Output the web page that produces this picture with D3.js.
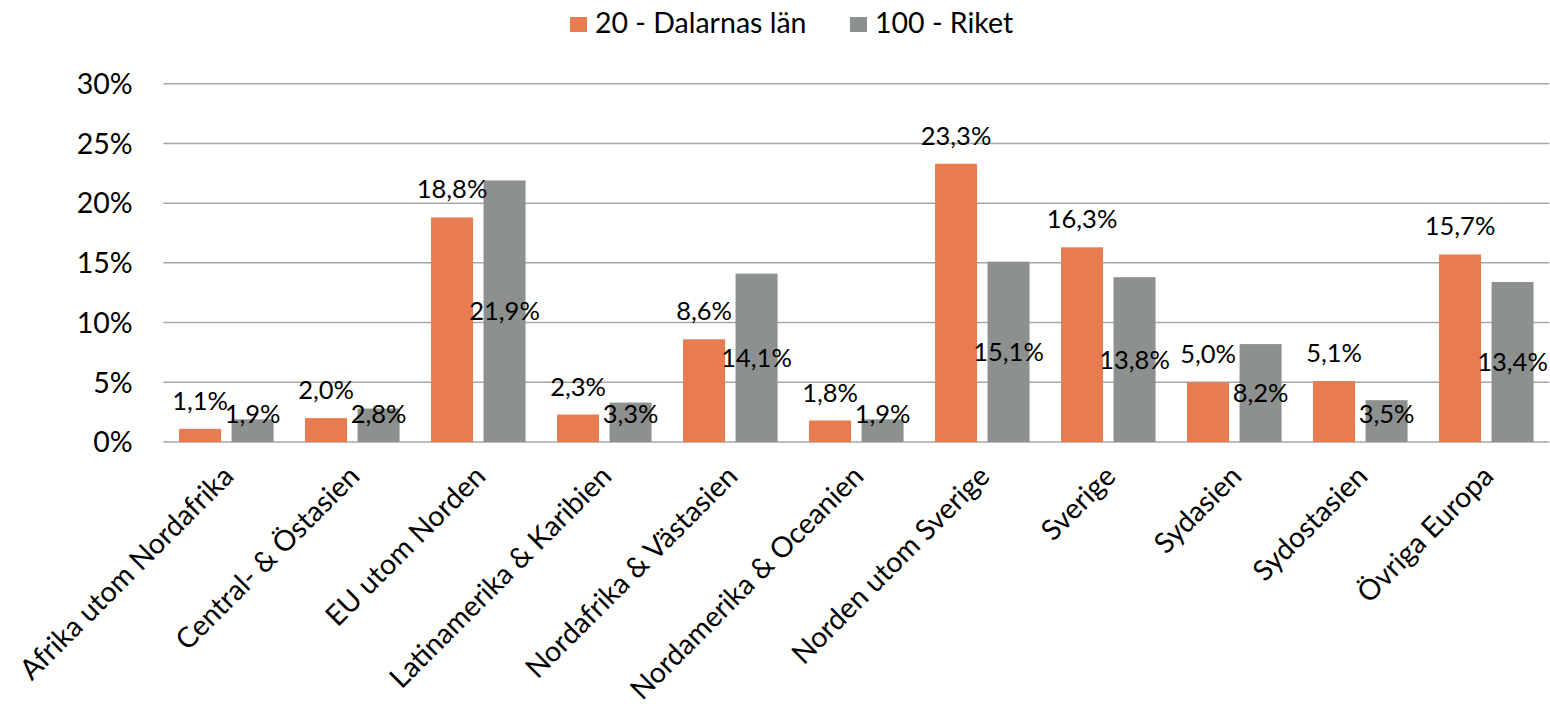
<!DOCTYPE html>
<html>
<head>
<meta charset="utf-8">
<script src="https://cdn.jsdelivr.net/npm/d3@7"></script>
<style>
  html, body { margin: 0; padding: 0; background: #fff; }
  svg { display: block; }
  text { font-family: Lato, "Open Sans", sans-serif; fill: #000; }
</style>
</head>
<body>
<svg id="chart" width="1550" height="715"></svg>
<script>
const categories = ["Afrika utom Nordafrika", "Central- & Östasien", "EU utom Norden", "Latinamerika & Karibien", "Nordafrika & Västasien", "Nordamerika & Oceanien", "Norden utom Sverige", "Sverige", "Sydasien", "Sydostasien", "Övriga Europa"];
const seriesNames = ["20 - Dalarnas län", "100 - Riket"];
const dalarna = [1.1, 2.0, 18.8, 2.3, 8.6, 1.8, 23.3, 16.3, 5.0, 5.1, 15.7];
const riket = [1.9, 2.8, 21.9, 3.3, 14.1, 1.9, 15.1, 13.8, 8.2, 3.5, 13.4];
const yTicks = [0, 5, 10, 15, 20, 25, 30];

const colors = ["#E67C4F", "#8C908E"];
const FS = 28.5;      // legend / axis
const FS_LBL = 25.5;  // data labels
const FS_CAT = 28.5;  // category labels

const locale = d3.formatLocale({ decimal: ",", thousands: " ", grouping: [3], currency: ["", " kr"] });
const fmt1 = v => locale.format(".1f")(v) + "%";
const fmt0 = v => locale.format("d")(v) + "%";

const svg = d3.select("#chart");
const plotLeft = 163.3, plotRight = 1549.3, plotTop = 83.7, plotBottom = 442;

const y = d3.scaleLinear().domain([0, 30]).range([plotBottom, plotTop]);
const x0 = d3.scaleBand().domain(categories).range([plotLeft, plotRight]).padding(0);
const x1 = d3.scaleBand().domain(seriesNames).range([0, x0.bandwidth()]).paddingInner(0.2).paddingOuter(0.3);

// gridlines
svg.append("g").selectAll("line").data(yTicks).join("line")
  .attr("x1", plotLeft).attr("x2", plotRight)
  .attr("y1", d => y(d)).attr("y2", d => y(d))
  .attr("stroke", "#a6a6a6").attr("stroke-width", 1.5);

// y labels
svg.append("g").selectAll("text").data(yTicks).join("text")
  .attr("x", 132.7).attr("y", d => y(d))
  .attr("dy", "0.36em")
  .attr("text-anchor", "end")
  .attr("font-size", FS)
  .text(d => fmt0(d));

const data = categories.map((c, i) => ({ cat: c, vals: [dalarna[i], riket[i]] }));

const groups = svg.append("g").selectAll("g").data(data).join("g")
  .attr("transform", d => `translate(${x0(d.cat)},0)`);

groups.selectAll("rect").data(d => d.vals.map((v, j) => ({ v, s: seriesNames[j], j }))).join("rect")
  .attr("x", d => x1(d.s))
  .attr("width", x1.bandwidth())
  .attr("y", d => y(d.v))
  .attr("height", d => y(0) - y(d.v))
  .attr("fill", d => colors[d.j]);

// data labels: orange outside end, gray centered (clamped above axis)
groups.selectAll("text.lbl").data(d => d.vals.map((v, j) => ({ v, s: seriesNames[j], j }))).join("text")
  .attr("class", "lbl")
  .attr("x", d => x1(d.s) + x1.bandwidth() / 2)
  .attr("y", d => d.j === 0 ? y(d.v) - 19 : Math.min(y(d.v / 2) + 9, plotBottom - 19))
  .attr("text-anchor", "middle")
  .attr("font-size", FS_LBL)
  .text(d => fmt1(d.v));

// x axis category labels
svg.append("g").selectAll("text").data(categories).join("text")
  .attr("transform", d => `translate(${x0(d) + x0.bandwidth() / 2 + 9},${plotBottom + 36}) rotate(-45)`)
  .attr("text-anchor", "end")
  .attr("font-size", FS_CAT)
  .text(d => d);

// legend
const legendX = [570, 850];
const lg = svg.append("g").selectAll("g").data(seriesNames).join("g")
  .attr("transform", (d, i) => `translate(${legendX[i]},0)`);
lg.append("rect").attr("x", 0).attr("y", 17).attr("width", 17).attr("height", 15)
  .attr("fill", (d, i) => colors[i]);
lg.append("text").attr("x", 25).attr("y", 33).attr("font-size", FS).text(d => d);
</script>
</body>
</html>
